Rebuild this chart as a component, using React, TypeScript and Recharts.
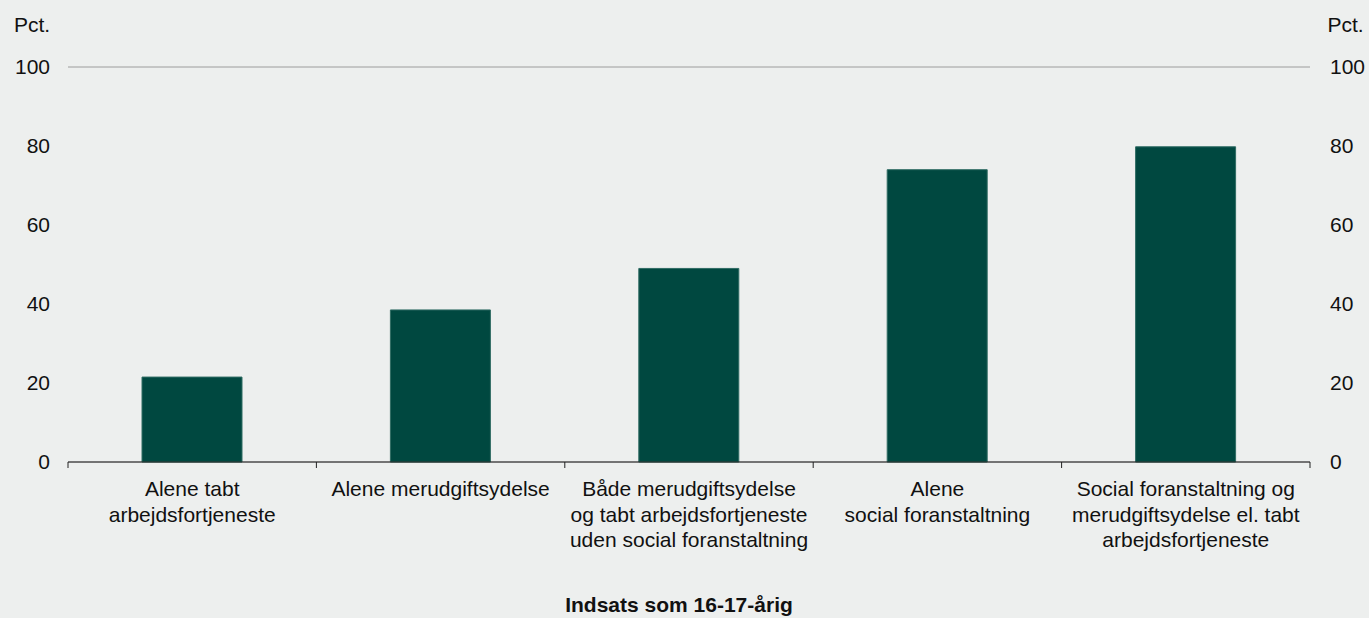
import { Bar, CartesianGrid, ComposedChart, Label, Line, XAxis, YAxis } from 'recharts'

const categories = [
  'Alene tabt\narbejdsfortjeneste',
  'Alene merudgiftsydelse',
  'Både merudgiftsydelse\nog tabt arbejdsfortjeneste\nuden social foranstaltning',
  'Alene\nsocial foranstaltning',
  'Social foranstaltning og\nmerudgiftsydelse el. tabt\narbejdsfortjeneste',
]
const shares = [21.5, 38.5, 49, 74, 79.8]
const yTicks = [0, 20, 40, 60, 80, 100]

const data = categories.map((name, i) => ({ name, value: shares[i] }))

const W = 1369
const H = 618
const PLOT_LEFT = 68
const PLOT_RIGHT = 1310
const BAND = (PLOT_RIGHT - PLOT_LEFT) / categories.length

const FONT = "'Liberation Sans', Arial, sans-serif"
const TICK_STYLE = { fontSize: 21, fontFamily: FONT, fill: '#111' }

function CategoryTick(props: any) {
  const { x, y, payload, index } = props
  const lines = String(payload.value).split('\n')
  return (
    <g>
      <line x1={x - BAND / 2} x2={x - BAND / 2} y1={y} y2={y + 6} stroke="#222" />
      {index === categories.length - 1 && (
        <line x1={x + BAND / 2} x2={x + BAND / 2} y1={y} y2={y + 6} stroke="#222" />
      )}
      <text x={x} y={y + 34} textAnchor="middle" {...TICK_STYLE}>
        {lines.map((l, i) => (
          <tspan key={i} x={x} dy={i === 0 ? 0 : 25.5}>
            {l}
          </tspan>
        ))}
      </text>
    </g>
  )
}

export default function App() {
  return (
    <div style={{ position: 'fixed', top: 0, left: 0, width: W, height: H, background: '#edefee' }}>
      <ComposedChart
        width={W}
        height={H}
        data={data}
        margin={{ top: 67, right: 0, bottom: 0, left: 0 }}
      >
        <CartesianGrid stroke="#9c9c9c" vertical={false} />
        <XAxis
          dataKey="name"
          interval={0}
          height={H - 67 - 395}
          tickSize={0}
          tickMargin={0}
          tick={<CategoryTick />}
          axisLine={{ stroke: '#222' }}
        >
          <Label
            value="Indsats som 16-17-årig"
            position="insideBottom"
            offset={6}
            dx={-10}
            style={{ fontSize: 21, fontWeight: 'bold', fontFamily: FONT, fill: '#111' }}
          />
        </XAxis>
        <YAxis
          yAxisId="left"
          orientation="left"
          width={PLOT_LEFT}
          domain={[0, 100]}
          ticks={yTicks}
          tickSize={0}
          tickMargin={18}
          axisLine={false}
          tick={TICK_STYLE}
        >
          <Label
            value="Pct."
            position="top"
            offset={35}
            dx={-2}
            style={{ fontSize: 21, fontFamily: FONT, fill: '#111' }}
          />
        </YAxis>
        <YAxis
          yAxisId="right"
          orientation="right"
          width={W - PLOT_RIGHT}
          domain={[0, 100]}
          ticks={yTicks}
          tickSize={0}
          tickMargin={20}
          axisLine={false}
          tick={TICK_STYLE}
        >
          <Label
            value="Pct."
            position="top"
            offset={35}
            dx={6}
            style={{ fontSize: 21, fontFamily: FONT, fill: '#111' }}
          />
        </YAxis>
        <Bar
          yAxisId="left"
          dataKey="value"
          fill="#004840"
          stroke="#2f6c63"
          strokeWidth={1}
          barSize={100}
          isAnimationActive={false}
        />
        {/* invisible series so the right axis gets its ticks */}
        <Line
          yAxisId="right"
          dataKey="value"
          stroke="none"
          dot={false}
          activeDot={false}
          legendType="none"
          isAnimationActive={false}
        />
      </ComposedChart>
    </div>
  )
}
